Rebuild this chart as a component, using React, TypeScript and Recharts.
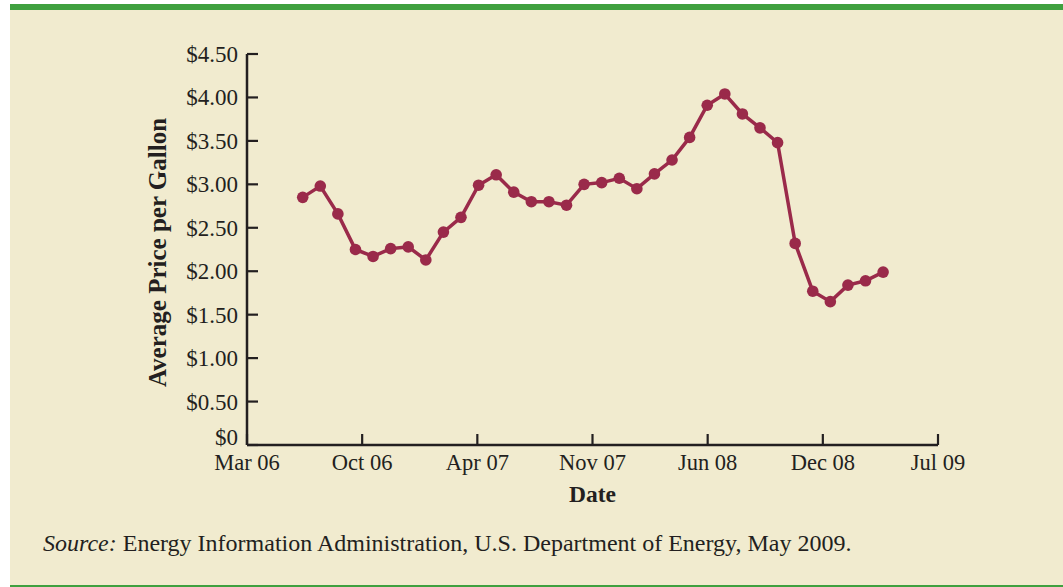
import React from 'react';
import { LineChart, Line, XAxis, YAxis } from 'recharts';

const months = [
  'Jul 06','Aug 06','Sep 06','Oct 06','Nov 06','Dec 06',
  'Jan 07','Feb 07','Mar 07','Apr 07','May 07','Jun 07',
  'Jul 07','Aug 07','Sep 07','Oct 07','Nov 07','Dec 07',
  'Jan 08','Feb 08','Mar 08','Apr 08','May 08','Jun 08',
  'Jul 08','Aug 08','Sep 08','Oct 08','Nov 08','Dec 08',
  'Jan 09','Feb 09','Mar 09','Apr 09',
];
const prices = [
  2.85, 2.98, 2.66, 2.25, 2.17, 2.26, 2.28, 2.13, 2.45, 2.62, 2.99, 3.11,
  2.91, 2.80, 2.80, 2.76, 3.00, 3.02, 3.07, 2.95, 3.12, 3.28, 3.54, 3.91,
  4.04, 3.81, 3.65, 3.48, 2.32, 1.77, 1.65, 1.84, 1.89, 1.99,
];
const xTickLabels = ['Mar 06', 'Oct 06', 'Apr 07', 'Nov 07', 'Jun 08', 'Dec 08', 'Jul 09'];
const xTickPositions = [-3.167, 3.381, 9.929, 16.477, 23.025, 29.573, 36.121];
const yTicks = [0, 0.5, 1, 1.5, 2, 2.5, 3, 3.5, 4, 4.5];

const data = prices.map((p, i) => ({ idx: i, month: months[i], price: p }));

const INK = '#231F20';
const LINE = '#9A2A4A';
const FONT = '"Liberation Serif", "Times New Roman", serif';

const fmtY = (v: number) => (v === 0 ? '$0' : '$' + v.toFixed(2));

const XTick = (props: any) => {
  const { x, y, index } = props;
  return (
    <g>
      <line x1={x} y1={y} x2={x} y2={y - 11} stroke={INK} strokeWidth={2.2} />
      <text x={x} y={y + 25} textAnchor="middle" fontFamily={FONT} fontSize={22.5} fill={INK}>
        {xTickLabels[index]}
      </text>
    </g>
  );
};

const YTick = (props: any) => {
  const { x, y, payload } = props;
  const v = payload.value;
  return (
    <g>
      <line x1={x} y1={y} x2={x + 11} y2={y} stroke={INK} strokeWidth={2.2} />
      <text
        x={x - 9}
        y={v === 0 ? y - 8 : y}
        dy="0.35em"
        textAnchor="end"
        fontFamily={FONT}
        fontSize={23}
        fill={INK}
      >
        {fmtY(v)}
      </text>
    </g>
  );
};

const YTitle = (props: any) => {
  const vb = props.viewBox || {};
  const cx = 157;
  const cy = (vb.y ?? 54) + (vb.height ?? 391) / 2 + 3;
  return (
    <text
      x={cx}
      y={cy}
      transform={`rotate(-90 ${cx} ${cy})`}
      textAnchor="middle"
      dominantBaseline="central"
      fontFamily={FONT}
      fontWeight="bold"
      fontSize={25}
      fill={INK}
    >
      Average Price per Gallon
    </text>
  );
};

const XTitle = () => (
  <text x={592.5} y={502} textAnchor="middle" fontFamily={FONT} fontWeight="bold" fontSize={23.5} fill={INK}>
    Date
  </text>
);

export default function App() {
  return (
    <div style={{ position: 'absolute', left: 0, top: 0, width: 1063, height: 587, background: '#ffffff', overflow: 'hidden' }}>
      <div style={{ position: 'absolute', left: 10, top: 4, width: 1053, height: 6, background: '#3FA03F' }} />
      <div style={{ position: 'absolute', left: 10, top: 10, width: 1053, height: 575, background: '#F1EBCF' }} />
      <div style={{ position: 'absolute', left: 10, top: 585, width: 1053, height: 2, background: '#3FA03F' }} />
      <div style={{ position: 'absolute', left: 0, top: 0 }}>
        <LineChart
          width={1063}
          height={587}
          data={data}
          margin={{ top: 54, left: 237, right: 125, bottom: 132 }}
        >
          <XAxis
            dataKey="idx"
            type="number"
            domain={[xTickPositions[0], xTickPositions[xTickPositions.length - 1]]}
            ticks={xTickPositions}
            interval={0}
            height={10}
            tickSize={0}
            tickMargin={0}
            tickLine={false}
            tick={<XTick />}
            axisLine={{ stroke: INK, strokeWidth: 2.5 }}
            label={<XTitle />}
            allowDataOverflow
          />
          <YAxis
            type="number"
            domain={[0, 4.5]}
            ticks={yTicks}
            interval={0}
            width={10}
            tickSize={0}
            tickMargin={0}
            tickLine={false}
            tick={<YTick />}
            axisLine={{ stroke: INK, strokeWidth: 2.5 }}
            label={<YTitle />}
            allowDataOverflow
          />
          <Line
            dataKey="price"
            stroke={LINE}
            strokeWidth={3.5}
            dot={{ r: 5.8, fill: LINE, stroke: LINE, strokeWidth: 0 }}
            activeDot={false}
            isAnimationActive={false}
          />
        </LineChart>
      </div>
      <div
        style={{
          position: 'absolute',
          left: 43,
          top: 531,
          fontFamily: FONT,
          fontSize: 24,
          lineHeight: '24px',
          color: INK,
          whiteSpace: 'nowrap',
        }}
      >
        <i>Source:</i> Energy Information Administration, U.S. Department of Energy, May 2009.
      </div>
    </div>
  );
}
